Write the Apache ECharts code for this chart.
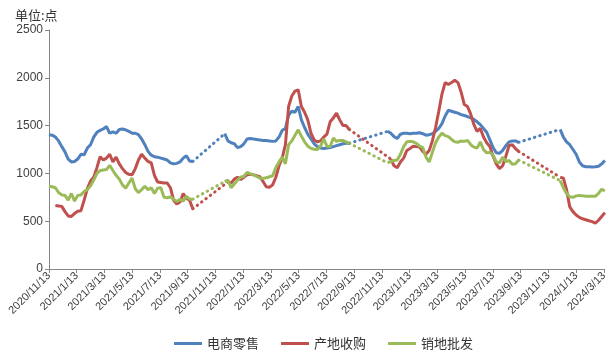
<!DOCTYPE html>
<html>
<head>
<meta charset="utf-8">
<script src="https://cdn.jsdelivr.net/npm/echarts@6/dist/echarts.min.js"></script>
<style>
  html, body { margin: 0; padding: 0; background: #fff; }
  #chart { width: 610px; height: 354px; }
</style>
</head>
<body>
<div id="chart"></div>
<script>
// weekly points, week 0 = 2020/11/13
var daysPerMonth = 30.4;
var tickLabels = ['2020/11/13', '2021/1/13', '2021/3/13', '2021/5/13', '2021/7/13', '2021/9/13',
  '2021/11/13', '2022/1/13', '2022/3/13', '2022/5/13', '2022/7/13', '2022/9/13', '2022/11/13',
  '2023/1/13', '2023/3/13', '2023/5/13', '2023/7/13', '2023/9/13', '2023/11/13', '2024/1/13', '2024/3/13'];
var seriesNames = ['电商零售', '产地收购', '销地批发'];
var seriesColors = ['#4F81BD', '#C0504D', '#9BBB59'];

var retail = [
  1405,1400,1380,1340,1280,1225,1150,1120,1125,1150,
  1200,1195,1265,1300,1380,1430,1450,1465,1490,1420,
  1435,1420,1460,1465,1455,1440,1420,1420,1405,1360,
  1300,1230,1190,1175,1170,1160,1150,1140,1110,1100,
  1105,1120,1160,1185,1130,1125,
  null,null,null,null,null,null,null,null,null,
  1415,1340,1320,1310,1270,
  1280,1310,1360,1365,1360,1355,1350,1345,1345,1340,
  1335,1340,1380,1450,1470,1610,1650,1640,1700,1560,
  1480,1410,1360,1310,1280,1265,1260,1265,1270,1280,
  1290,1300,1310,1315,1315,
  null,null,null,null,null,null,null,null,null,null,null,
  1440,1420,1385,1365,
  1410,1420,1420,1415,1420,1420,1425,1415,1400,1405,
  1415,1440,1470,1520,1600,1660,1650,1640,1630,1615,
  1605,1595,1580,1565,1540,1510,1470,1430,1350,1270,
  1215,1210,1240,1290,1330,1340,1340,1325,
  null,null,null,null,null,null,null,null,null,null,null,null,
  1460,1380,1330,1300,1250,1200,1120,1080,1070,1070,
  1068,1070,1075,1100,1135
];

var origin = [
  null,null,
  665,660,655,600,555,550,580,605,
  610,720,840,920,960,1060,1175,1140,1160,1200,
  1120,1170,1100,1050,1010,990,985,1050,1140,1200,
  1160,1125,1110,980,910,905,900,900,850,720,
  680,700,790,740,720,630,
  null,null,null,null,null,null,null,null,null,null,
  910,900,940,960,
  935,960,985,990,985,975,965,915,860,855,
  880,960,1080,1160,1300,1700,1810,1860,1875,1700,
  1640,1560,1420,1350,1330,1340,1380,1410,1540,1580,
  1630,1560,1500,1500,1460,
  null,null,null,null,null,null,null,null,null,null,null,null,
  1150,1080,1060,
  1120,1160,1240,1260,1285,1280,1275,1230,1200,1240,
  1340,1480,1650,1830,1950,1930,1950,1975,1950,1850,
  1720,1700,1620,1510,1440,1470,1380,1320,1280,1180,
  1100,1050,1080,1180,1290,1300,1260,1230,
  null,null,null,null,null,null,null,null,null,null,null,null,
  960,950,830,650,600,565,540,525,515,505,
  495,480,510,550,590
];

var wholesale = [
  865,860,850,800,775,770,720,790,710,770,
  775,810,830,870,930,1000,1030,1035,1040,1085,
  1030,980,940,880,845,900,950,840,800,830,
  865,830,850,790,845,850,750,745,755,730,
  705,730,710,760,730,730,
  null,null,null,null,null,null,null,null,null,
  915,930,850,890,930,
  960,970,1010,995,985,970,950,948,955,965,
  975,1060,1120,1170,1100,1300,1340,1400,1455,1390,
  1330,1285,1262,1252,1250,1285,1360,1285,1280,1370,
  1335,1345,1345,1330,1315,
  null,null,null,null,null,null,null,null,null,null,null,
  1110,1125,1135,1140,
  1200,1280,1330,1335,1330,1315,1285,1270,1170,1120,
  1220,1320,1380,1420,1395,1385,1355,1330,1325,1340,
  1335,1345,1300,1275,1265,1330,1250,1215,1220,1190,
  1120,1110,1170,1125,1135,1095,1100,1140,
  null,null,null,null,null,null,null,null,null,null,null,null,
  925,850,790,755,750,765,770,765,762,762,
  760,760,790,835,815
];

function weekX(i) {
  return i * 7 / daysPerMonth;
}

function toPoints(values) {
  return values.map(function (v, i) {
    return [weekX(i), v == null ? '-' : v];
  });
}

// dotted links across the missing weeks
function gapLinks(values) {
  var out = [];
  var last = -1;
  for (var i = 0; i < values.length; i++) {
    if (values[i] == null) continue;
    if (last >= 0 && i - last > 1) {
      out.push([weekX(last), values[last]], [weekX(i), values[i]], [weekX(i), '-']);
    }
    last = i;
  }
  return out;
}

var allValues = [retail, origin, wholesale];
var series = [];
allValues.forEach(function (vals, k) {
  series.push({
    name: seriesNames[k],
    type: 'line',
    data: toPoints(vals),
    showSymbol: false,
    connectNulls: false,
    lineStyle: { color: seriesColors[k], width: 3 },
    itemStyle: { color: seriesColors[k] },
    z: 3 + k
  });
});
allValues.forEach(function (vals, k) {
  series.push({
    name: seriesNames[k],
    type: 'line',
    data: gapLinks(vals),
    showSymbol: false,
    connectNulls: false,
    lineStyle: { color: seriesColors[k], width: 3, type: [0.5, 5], cap: 'round' },
    itemStyle: { color: seriesColors[k] },
    z: 2
  });
});

var chart = echarts.init(document.getElementById('chart'));
chart.setOption({
  animation: false,
  backgroundColor: '#fff',
  textStyle: { fontFamily: 'Liberation Sans, Noto Sans CJK SC, sans-serif' },
  title: {
    text: '单位:点',
    left: 10,
    top: 4,
    textStyle: { fontSize: 13, fontWeight: 'normal', color: '#333', fontFamily: 'Noto Sans CJK SC' }
  },
  grid: { left: 49, right: 6, top: 30, bottom: 85 },
  legend: {
    data: seriesNames,
    left: 169,
    top: 332,
    icon: 'rect',
    itemWidth: 28,
    itemHeight: 3,
    itemGap: 22,
    textStyle: { fontSize: 13, color: '#333', fontFamily: 'Noto Sans CJK SC' }
  },
  xAxis: {
    type: 'value',
    min: 0,
    max: 40,
    interval: 2,
    axisLine: { show: true, lineStyle: { color: '#868686', width: 1 } },
    axisTick: { show: true, length: 4, lineStyle: { color: '#868686' } },
    splitLine: { show: false },
    axisLabel: {
      rotate: 45,
      fontSize: 11,
      color: '#404040',
      margin: 5,
      formatter: function (v) { return tickLabels[Math.round(v / 2)] || ''; }
    }
  },
  yAxis: {
    type: 'value',
    min: 0,
    max: 2500,
    interval: 500,
    axisLine: { show: true, lineStyle: { color: '#868686', width: 1 } },
    axisTick: { show: true, length: 4, lineStyle: { color: '#868686' } },
    splitLine: { show: false },
    axisLabel: {
      fontSize: 12,
      color: '#404040',
      margin: 6,
      formatter: function (v) { return String(v); }
    }
  },
  series: series
});
</script>
</body>
</html>
